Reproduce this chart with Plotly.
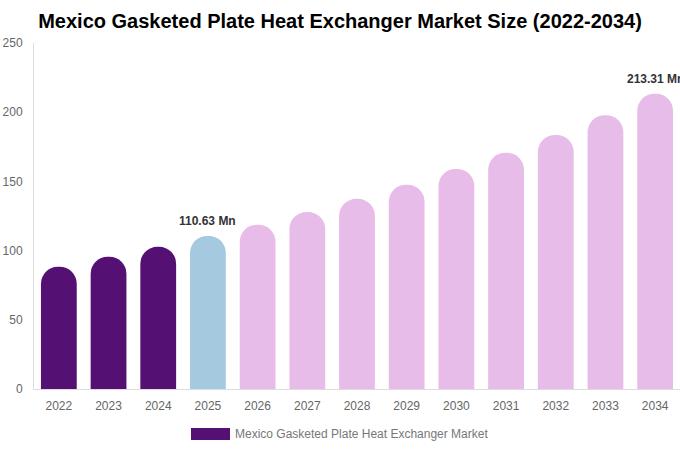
import plotly.graph_objects as go

years = ["2022", "2023", "2024", "2025", "2026", "2027", "2028",
         "2029", "2030", "2031", "2032", "2033", "2034"]
market_size = [88.3, 95.5, 102.7, 110.63, 118.7, 127.8, 137.4,
               147.6, 158.9, 170.7, 183.6, 197.8, 213.31]
bar_colors = ["#541173"] * 3 + ["#a5cadf"] + ["#e8bce9"] * 9
labelled = {"2025": "110.63 Mn", "2034": "213.31 Mn"}
series_name = "Mexico Gasketed Plate Heat Exchanger Market"

fig = go.Figure()
fig.add_trace(go.Bar(
    x=years, y=market_size,
    marker=dict(color=bar_colors, cornerradius="50%", line_width=0),
    name=series_name, showlegend=False,
))

for yr, txt in labelled.items():
    i = years.index(yr)
    # category axis: annotation x given as the category index
    fig.add_annotation(x=i, y=market_size[i], text="<b>" + txt + "</b>",
                       showarrow=False, yanchor="bottom", yshift=6,
                       font=dict(size=12, color="#333333"))

# legend swatch + label drawn by hand to get the wide rectangle
fig.add_shape(type="rect", xref="paper", yref="paper",
              x0=(191 - 34) / 646, x1=(230 - 34) / 646,
              y0=-(428 - 389) / 346, y1=-(440 - 389) / 346,
              fillcolor="#541173", line_width=0)
fig.add_annotation(xref="paper", yref="paper", x=(233 - 34) / 646, y=-(434 - 389) / 346,
                   xanchor="left", yanchor="middle", showarrow=False,
                   text=series_name, font=dict(size=12, color="#777777"))

fig.update_layout(
    width=680, height=450,
    margin=dict(l=34, r=0, t=43, b=61, autoexpand=False),
    paper_bgcolor="white", plot_bgcolor="white",
    font=dict(family="Liberation Sans, Arial, sans-serif", size=12, color="#666666"),
    title=dict(text="<b>Mexico Gasketed Plate Heat Exchanger Market Size (2022-2034)</b>",
               x=0.5, xanchor="center", xref="container", y=1 - 21 / 450, yanchor="middle",
               font=dict(size=20, color="#000000")),
    bargap=0.28,
    xaxis=dict(type="category", range=[-0.5, len(years) - 0.5], automargin=False,
               showline=True, linecolor="#dddddd", linewidth=1, ticks="", ticklabelstandoff=6,
               tickfont=dict(size=12, color="#666666"), showgrid=False),
    yaxis=dict(range=[0, 250], tick0=0, dtick=50, automargin=False, showgrid=False,
               zeroline=False, showline=True, linecolor="#dddddd", linewidth=1, ticks="",
               ticklabelstandoff=8, tickfont=dict(size=12, color="#666666")),
)

# drop the browser's default 8px body margin so the figure fills the window
fig.write_html("out.html", config={"displayModeBar": False},
               post_script="document.body.style.margin = '0';")
